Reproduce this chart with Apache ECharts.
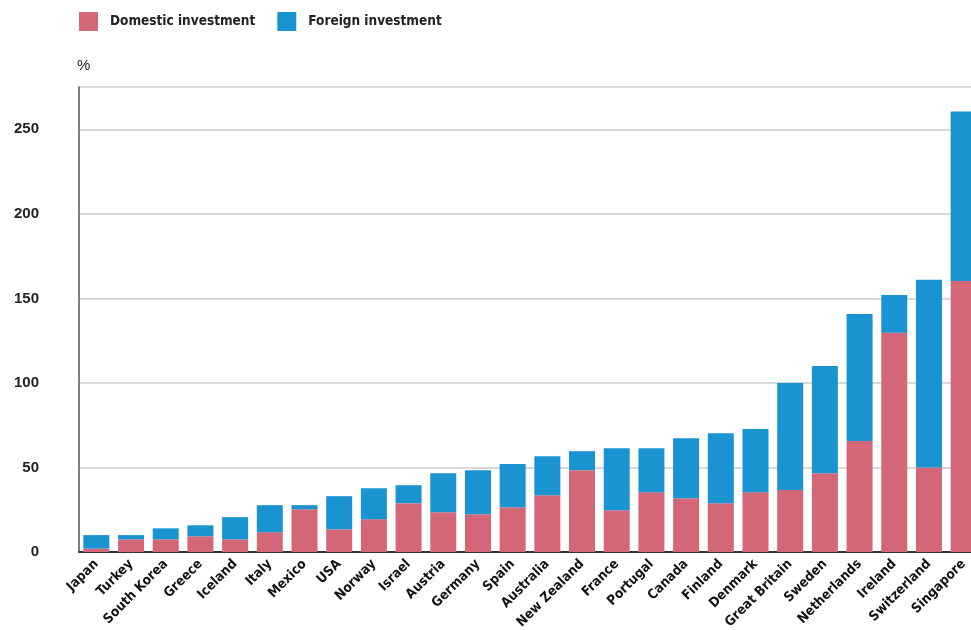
<!DOCTYPE html>
<html>
<head>
<meta charset="utf-8">
<script src="https://cdn.jsdelivr.net/npm/echarts@6/dist/echarts.min.js"></script>
<style>
  html, body { margin: 0; padding: 0; background: #fff; }
  #chart { width: 971px; height: 630px; }
</style>
</head>
<body>
<div id="chart"></div>
<script>
const countries = ['Japan', 'Turkey', 'South Korea', 'Greece', 'Iceland', 'Italy', 'Mexico', 'USA', 'Norway', 'Israel',
  'Austria', 'Germany', 'Spain', 'Australia', 'New Zealand', 'France', 'Portugal', 'Canada', 'Finland', 'Denmark',
  'Great Britain', 'Sweden', 'Netherlands', 'Ireland', 'Switzerland', 'Singapore'];

const domestic = [2, 7.5, 7.5, 9.3, 7.5, 11.7, 25.3, 13.4, 19.4, 28.9,
  23.5, 22.3, 26.5, 33.6, 48.4, 24.7, 35.4, 31.8, 28.9, 35.4,
  36.6, 46.6, 65.6, 129.6, 50, 160.3];

const totals = [10, 10, 14, 15.8, 20.6, 27.7, 27.7, 33, 37.7, 39.5,
  46.6, 48.4, 52, 56.7, 59.6, 61.4, 61.4, 67.3, 70.3, 72.7,
  100, 110, 140.8, 152, 161, 260.5];
const foreign = totals.map((t, i) => +(t - domestic[i]).toFixed(1));

const yTicks = [0, 50, 100, 150, 200, 250];

const condensed = '"DejaVu Sans Condensed", "Liberation Sans Narrow", sans-serif';

const chart = echarts.init(document.getElementById('chart'));

chart.setOption({
  animation: false,
  color: ['#d36778', '#1994d1'],
  legend: {
    left: 79,
    top: 12,
    padding: 0,
    icon: 'rect',
    itemWidth: 19,
    itemHeight: 19,
    itemGap: 22,
    textStyle: {
      fontFamily: condensed,
      fontWeight: 'bold',
      fontSize: 13.5,
      color: '#222',
      padding: [0, 0, 0, 7]
    },
    data: ['Domestic investment', 'Foreign investment']
  },
  grid: {
    left: 79,
    top: 87,
    width: 902,
    bottom: 78,
    outerBoundsMode: 'none',
    containLabel: false
  },
  xAxis: {
    type: 'category',
    data: countries,
    axisTick: { show: false },
    axisLine: { lineStyle: { color: '#333', width: 2 } },
    axisLabel: {
      interval: 0,
      rotate: 45,
      margin: 10,
      fontFamily: condensed,
      fontWeight: 'bold',
      fontSize: 13.5,
      color: '#111'
    }
  },
  yAxis: {
    type: 'value',
    min: 0,
    max: 275,
    interval: 50,
    name: '%',
    nameLocation: 'end',
    nameGap: 14,
    nameTextStyle: {
      align: 'left',
      fontFamily: 'Liberation Sans, sans-serif',
      fontSize: 15,
      color: '#222',
      padding: [0, 0, 0, -2]
    },
    axisLine: { show: true, lineStyle: { color: '#555', width: 1.5 } },
    axisTick: { show: false },
    axisLabel: {
      margin: 40,
      fontFamily: 'Liberation Sans, sans-serif',
      fontWeight: 'bold',
      fontSize: 15,
      color: '#222',
      formatter: v => (yTicks.includes(v) ? String(v) : '')
    },
    splitLine: { lineStyle: { color: '#cccccc', width: 1.5 } }
  },
  series: [
    {
      name: 'Domestic investment',
      type: 'bar',
      stack: 'total',
      barWidth: 26,
      data: domestic
    },
    {
      name: 'Foreign investment',
      type: 'bar',
      stack: 'total',
      barWidth: 26,
      data: foreign
    }
  ]
});
</script>
</body>
</html>
